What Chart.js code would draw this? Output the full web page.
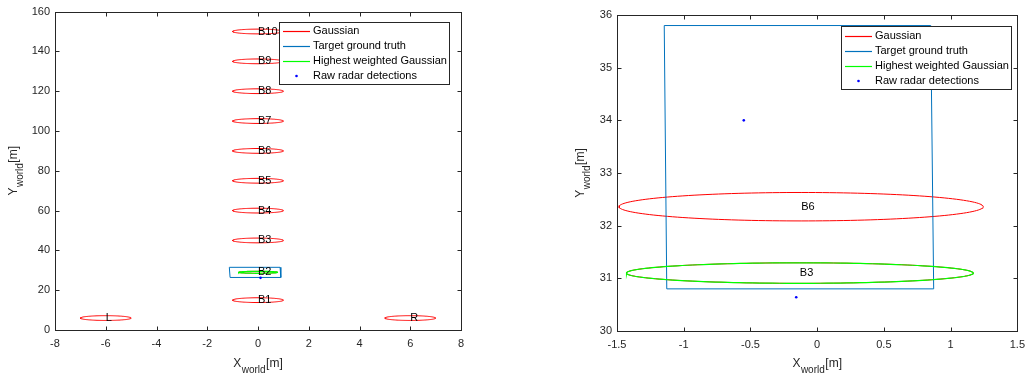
<!DOCTYPE html>
<html>
<head>
<meta charset="utf-8">
<script src="https://cdn.jsdelivr.net/npm/chart.js@4.4.0/dist/chart.umd.min.js"></script>
<style>
  body { margin: 0; background: #fff; width: 1032px; height: 374px; overflow: hidden; position: relative; }
  canvas { position: absolute; top: 0; }
</style>
</head>
<body>
<canvas id="leftChart" width="516" height="374" style="left:0"></canvas>
<canvas id="rightChart" width="516" height="374" style="left:516px"></canvas>
<script>
// left panel: all Gaussians along the road
const leftNames = ["L", "R", "B1", "B2", "B3", "B4", "B5", "B6", "B7", "B8", "B9", "B10"];
const leftCx = [-6, 6, 0, 0, 0, 0, 0, 0, 0, 0, 0, 0];
const leftCy = [6, 6, 15, 29, 45, 60, 75, 90, 105, 120, 135, 150];
const leftRx = [1, 1, 1, 0.77, 1, 1, 1, 1, 1, 1, 1, 1];
const leftRy = [1.2, 1.2, 1.2, 0.5, 1.2, 1.2, 1.2, 1.2, 1.2, 1.2, 1.2, 1.2];
const leftBest = 3;
const leftTruthX = [-1.13, 0.87, 0.9, -1.1];
const leftTruthY = [31.5, 31.5, 26.4, 26.4];
const leftDetX = [0.1];
const leftDetY = [26.2];

// right panel: zoom on the target
const rightNames = ["B6", "B3"];
const rightCx = [-0.12, -0.13];
const rightCy = [32.36, 31.1];
const rightRx = [1.365, 1.3];
const rightRy = [0.27, 0.195];
const rightBest = 1;
const rightTruthX = [-1.146, 0.851, 0.873, -1.127];
const rightTruthY = [35.8, 35.8, 30.8, 30.8];
const rightDetX = [-0.55, -0.157];
const rightDetY = [34.0, 30.64];

const legendNames = ["Gaussian", "Target ground truth", "Highest weighted Gaussian", "Raw radar detections"];

const RED = "#ff0000", BLUE = "#0072bd", GREEN = "#00ff00", DOT = "#0000ff", AX = "#262626";
const FONT = '"Liberation Sans", Arial, sans-serif';

function ellipsePts(cx, cy, rx, ry) {
  const pts = [];
  for (let k = 0; k <= 160; k++) {
    const t = 2 * Math.PI * k / 160;
    pts.push({ x: cx + rx * Math.cos(t), y: cy + ry * Math.sin(t) });
  }
  return pts;
}

// lower "order" is drawn on top in Chart.js
function buildDatasets(cx, cy, rx, ry, best, tx, ty, dx, dy) {
  const ds = [];
  cx.forEach((c, i) => {
    ds.push({ data: ellipsePts(c, cy[i], rx[i], ry[i]), showLine: true, borderColor: RED,
      borderWidth: 1, pointRadius: 0, fill: false, tension: 0, order: 4 });
  });
  const rect = tx.map((v, i) => ({ x: v, y: ty[i] }));
  rect.push(rect[0]);
  ds.push({ data: rect, showLine: true, borderColor: BLUE, borderWidth: 1, pointRadius: 0, fill: false,
    tension: 0, order: 3 });
  ds.push({ data: ellipsePts(cx[best], cy[best], rx[best], ry[best]), showLine: true, borderColor: GREEN,
    borderWidth: 1.2, pointRadius: 0, fill: false, tension: 0, order: 2 });
  ds.push({ data: dx.map((v, i) => ({ x: v, y: dy[i] })), showLine: false, pointRadius: 1.3,
    pointBackgroundColor: DOT, pointBorderWidth: 0, order: 1 });
  return ds;
}

function drawSubLabel(ctx, main, px, py, rotate) {
  ctx.save();
  ctx.translate(px, py);
  if (rotate) ctx.rotate(-Math.PI / 2);
  const big = "12px " + FONT, small = "10px " + FONT;
  ctx.font = big; const w1 = ctx.measureText(main).width; const w3 = ctx.measureText("[m]").width;
  ctx.font = small; const w2 = ctx.measureText("world").width;
  const x0 = -(w1 + w2 + w3 + 1) / 2;
  ctx.fillStyle = AX; ctx.textAlign = "left"; ctx.textBaseline = "alphabetic";
  ctx.font = big; ctx.fillText(main, x0, 0);
  ctx.font = small; ctx.fillText("world", x0 + w1 + 0.5, 6);
  ctx.font = big; ctx.fillText("[m]", x0 + w1 + w2 + 1, 0);
  ctx.restore();
}

const matlabAxes = {
  id: "matlabAxes",
  afterDatasetsDraw(chart, args, o) {
    const { ctx, chartArea: a, scales: { x, y } } = chart;
    ctx.save();
    // Gaussian names
    ctx.fillStyle = "#000"; ctx.font = "11px " + FONT;
    ctx.textAlign = "left"; ctx.textBaseline = "middle";
    o.names.forEach((n, i) => ctx.fillText(n, x.getPixelForValue(o.cx[i]), y.getPixelForValue(o.cy[i])));
    // box and inward ticks
    ctx.strokeStyle = AX; ctx.lineWidth = 1;
    const L = Math.round(a.left) + 0.5, R = Math.round(a.right) + 0.5;
    const T = Math.round(a.top) + 0.5, B = Math.round(a.bottom) + 0.5;
    ctx.strokeRect(L, T, R - L, B - T);
    ctx.beginPath();
    x.ticks.forEach(t => {
      const p = Math.round(x.getPixelForValue(t.value)) + 0.5;
      ctx.moveTo(p, B); ctx.lineTo(p, B - 4);
      ctx.moveTo(p, T); ctx.lineTo(p, T + 4);
    });
    y.ticks.forEach(t => {
      const p = Math.round(y.getPixelForValue(t.value)) + 0.5;
      ctx.moveTo(L, p); ctx.lineTo(L + 4, p);
      ctx.moveTo(R, p); ctx.lineTo(R - 4, p);
    });
    ctx.stroke();
    // axis titles
    drawSubLabel(ctx, "X", (a.left + a.right) / 2, 367, false);
    drawSubLabel(ctx, "Y", o.yTitleX, (a.top + a.bottom) / 2, true);
    // legend
    const lg = o.legend;
    ctx.fillStyle = "#fff";
    ctx.fillRect(lg.box[0], lg.box[1], lg.box[2] - lg.box[0], lg.box[3] - lg.box[1]);
    ctx.strokeStyle = AX;
    ctx.strokeRect(lg.box[0] + 0.5, lg.box[1] + 0.5, lg.box[2] - lg.box[0], lg.box[3] - lg.box[1]);
    const cols = [RED, BLUE, GREEN];
    ctx.font = "11px " + FONT; ctx.textBaseline = "middle";
    legendNames.forEach((n, i) => {
      const ry = lg.rows[i];
      if (i < 3) {
        ctx.strokeStyle = cols[i]; ctx.lineWidth = 1.2;
        ctx.beginPath(); ctx.moveTo(lg.line[0], ry + 0.5); ctx.lineTo(lg.line[1], ry + 0.5); ctx.stroke();
      } else {
        ctx.fillStyle = DOT;
        ctx.beginPath(); ctx.arc((lg.line[0] + lg.line[1]) / 2, ry, 1.3, 0, 2 * Math.PI); ctx.fill();
      }
      ctx.fillStyle = "#000";
      ctx.fillText(n, lg.text, ry);
    });
    ctx.restore();
  }
};

function makeChart(id, cfg) {
  const tickFont = { family: FONT, size: 11 };
  new Chart(document.getElementById(id).getContext("2d"), {
    type: "scatter",
    data: { datasets: buildDatasets(cfg.cx, cfg.cy, cfg.rx, cfg.ry, cfg.best, cfg.tx, cfg.ty, cfg.dx, cfg.dy) },
    options: {
      responsive: false,
      devicePixelRatio: 1,
      animation: false,
      layout: { padding: cfg.padding },
      plugins: {
        legend: { display: false },
        tooltip: { enabled: false },
        matlabAxes: {
          names: cfg.names, cx: cfg.cx, cy: cfg.cy,
          yTitleX: cfg.yTitleX, legend: cfg.legend
        }
      },
      scales: {
        x: {
          type: "linear", min: cfg.xRange[0], max: cfg.xRange[1],
          grid: { display: false, drawTicks: false }, border: { display: false },
          ticks: { stepSize: cfg.xStep, color: AX, font: tickFont, padding: 7,
            callback: v => String(+v.toFixed(2)) },
          afterFit: s => { s.height = cfg.xHeight; }
        },
        y: {
          type: "linear", min: cfg.yRange[0], max: cfg.yRange[1],
          grid: { display: false, drawTicks: false }, border: { display: false },
          ticks: { stepSize: cfg.yStep, color: AX, font: tickFont, padding: 5,
            callback: v => String(+v.toFixed(2)) },
          afterFit: s => { s.width = cfg.yWidth; }
        }
      }
    },
    plugins: [matlabAxes]
  });
}

makeChart("leftChart", {
  names: leftNames, cx: leftCx, cy: leftCy, rx: leftRx, ry: leftRy, best: leftBest,
  tx: leftTruthX, ty: leftTruthY, dx: leftDetX, dy: leftDetY,
  xRange: [-8, 8], xStep: 2, yRange: [0, 160], yStep: 20,
  padding: { top: 11, right: 55, bottom: 0, left: 0 }, xHeight: 44, yWidth: 55,
  yTitleX: 17,
  legend: { box: [279, 22, 449, 84], line: [283, 310], text: 313, rows: [31, 46, 61, 76] }
});

makeChart("rightChart", {
  names: rightNames, cx: rightCx, cy: rightCy, rx: rightRx, ry: rightRy, best: rightBest,
  tx: rightTruthX, ty: rightTruthY, dx: rightDetX, dy: rightDetY,
  xRange: [-1.5, 1.5], xStep: 0.5, yRange: [30, 36], yStep: 1,
  padding: { top: 15, right: 10, bottom: 0, left: 0 }, xHeight: 43, yWidth: 101,
  yTitleX: 68,
  legend: { box: [325, 26, 495, 89], line: [329, 356], text: 359, rows: [36, 51, 66, 81] }
});
</script>
</body>
</html>
